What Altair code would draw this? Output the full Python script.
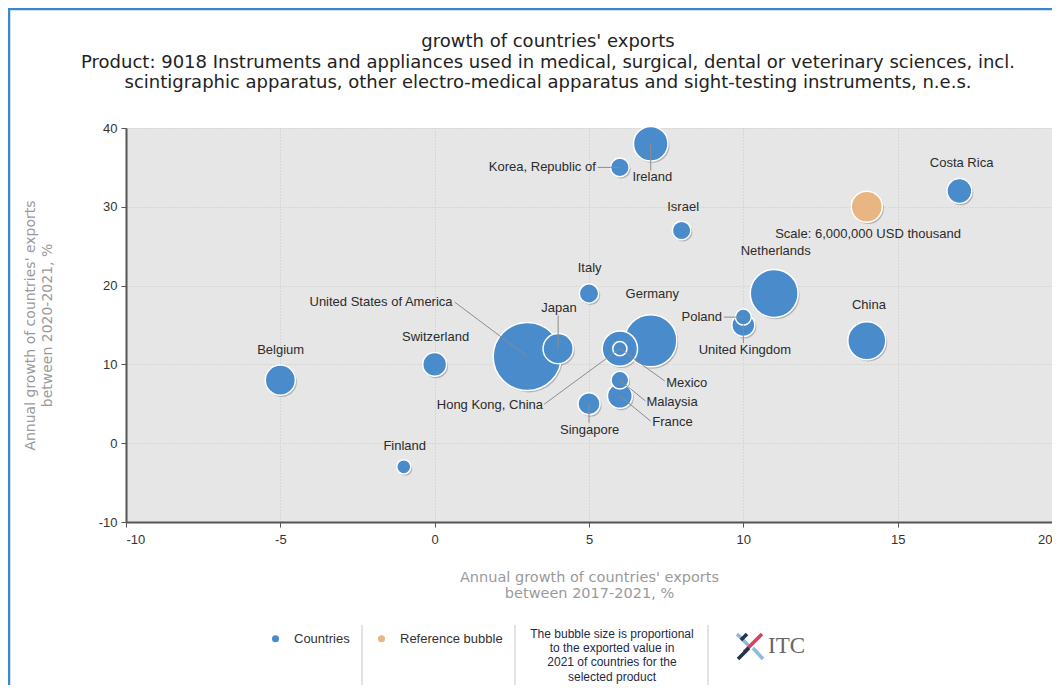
import altair as alt
import pandas as pd

# ---- data ----
countries = ["United States of America", "Germany", "Netherlands", "China", "Mexico",
             "Ireland", "Japan", "Belgium", "France", "Costa Rica", "Switzerland",
             "United Kingdom", "Singapore", "Italy", "Israel", "Korea, Republic of",
             "Malaysia", "Poland", "Hong Kong, China", "Finland"]
growth_2017_2021 = [3, 7, 11, 14, 6, 7, 4, -5, 6, 17, 0, 10, 5, 5, 8, 6, 6, 10, 6, -1]
growth_2020_2021 = [11, 13, 19, 13, 12, 38, 12, 8, 6, 32, 10, 15, 5, 19, 27, 35, 8, 16, 12, -3]
export_value_2021 = [29000000, 17000000, 14300000, 9000000, 7800000, 7450000, 5650000,
                     5650000, 3850000, 3850000, 3550000, 3300000, 3050000, 2350000,
                     2150000, 2150000, 1950000, 1600000, 1250000, 1250000]

# label anchors (in data units) and label alignment
label_x = [0.58, 7.05, 11.05, 14.07, 7.5, 7.05, 4.03, -4.99, 7.05, 17.07, 0.03,
           10.05, 5.02, 5.02, 8.05, 5.22, 6.86, 9.31, 3.51, -0.97]
label_y = [17.9, 18.9, 24.4, 17.5, 7.6, 33.8, 17.1, 11.8, 2.66, 35.5, 13.45,
           11.8, 1.65, 22.2, 29.95, 35.0, 5.2, 16.0, 4.8, -0.38]
label_align = ["right", "center", "center", "center", "left", "center", "center",
               "center", "left", "center", "center", "center", "center", "center",
               "center", "right", "left", "right", "right", "center"]
# leader line end points (data units); None = no leader line
line_end_x = [0.65, None, None, None, 7.45, 7.0, 4.0, None, 7.0, None, None,
              10.0, 5.0, None, None, 5.28, 6.83, 9.37, 3.55, None]
line_end_y = [17.9, None, None, None, 7.9, 34.6, 16.2, None, 2.8, None, None,
              12.7, 2.6, None, None, 35.0, 5.35, 16.0, 4.95, None]

ref_name = "Scale: 6,000,000 USD thousand"
ref_x, ref_y, ref_value = 14, 30, 6000000
ref_label_x, ref_label_y = 14.04, 26.5

x_ticks = [-10, -5, 0, 5, 10, 15, 20]
y_ticks = [-10, 0, 10, 20, 30, 40]

title_lines = [
    "growth of countries' exports",
    "Product: 9018 Instruments and appliances used in medical, surgical, dental or veterinary sciences, incl.",
    "scintigraphic apparatus, other electro-medical apparatus and sight-testing instruments, n.e.s.",
]
note_lines = ["The bubble size is proportional", "to the exported value in",
              "2021 of countries for the", "selected product"]

# ---- build table ----
rows = []
for i, c in enumerate(countries):
    rows.append(dict(name=c, kind="Countries", gx=growth_2017_2021[i], gy=growth_2020_2021[i],
                     value=export_value_2021[i], lx=label_x[i], ly=label_y[i],
                     align=label_align[i],
                     ex=line_end_x[i], ey=line_end_y[i]))
rows.append(dict(name=ref_name, kind="Reference bubble", gx=ref_x, gy=ref_y, value=ref_value,
                 lx=ref_label_x, ly=ref_label_y, align="center", ex=None, ey=None))
df = pd.DataFrame(rows).sort_values("value", ascending=False).reset_index(drop=True)
one = pd.DataFrame({"k": [0]})

W, H = 926, 394
BLUE = "#4A8BCB"
ORANGE = "#E8B583"
LABEL_FONT = "Liberation Sans"

xscale = alt.Scale(domain=[-10, 20], nice=False, zero=False)
yscale = alt.Scale(domain=[-10, 40], nice=False, zero=False)
size_scale = alt.Scale(domain=[0, 6000000], range=[0, 962])

base = alt.Chart(df)

xenc = alt.X("gx:Q", scale=xscale,
             axis=alt.Axis(values=x_ticks, labelExpr="toString(datum.value)",
                           title=["Annual growth of countries' exports", "between 2017-2021, %"]))
yenc = alt.Y("gy:Q", scale=yscale,
             axis=alt.Axis(values=y_ticks, labelExpr="toString(datum.value)",
                           title=["Annual growth of countries' exports", "between 2020-2021, %"]))

shadow = base.mark_circle(color="#8a8a8a", opacity=0.55, xOffset=1.5, yOffset=1.8).encode(
    x=xenc, y=yenc,
    size=alt.Size("value:Q", scale=size_scale, legend=None),
)

bubbles = base.mark_circle(opacity=1, stroke="white", strokeWidth=1.5).encode(
    x="gx:Q", y="gy:Q",
    size=alt.Size("value:Q", scale=size_scale, legend=None),
    color=alt.Color("kind:N",
                    scale=alt.Scale(domain=["Countries", "Reference bubble"], range=[BLUE, ORANGE]),
                    legend=alt.Legend(title=None, orient="none", legendX=143, legendY=504,
                                      direction="horizontal", symbolType="circle",
                                      symbolSize=50, symbolStrokeWidth=0,
                                      labelFont=LABEL_FONT, labelFontSize=13,
                                      labelColor="#333333", columnPadding=25,
                                      labelOffset=12)),
    tooltip=["name:N", "gx:Q", "gy:Q", "value:Q"],
)

leaders = base.transform_filter("isValid(datum.ex)").mark_rule(
    color="#8c8c8c", strokeWidth=1).encode(
    x="gx:Q", y="gy:Q", x2="ex:Q", y2="ey:Q")

label_layers = []
for al in ["left", "center", "right"]:
    label_layers.append(
        base.transform_filter(alt.datum.align == al).mark_text(
            align=al, baseline="middle", font=LABEL_FONT, fontSize=13, color="#2b2b2b"
        ).encode(x="lx:Q", y="ly:Q", text="name:N")
    )

# ---- title, footer note, separators, logo, frame ----
deco = []
deco.append(alt.Chart(one).mark_text(
    align="center", baseline="middle", font="DejaVu Sans", fontSize=18, lineHeight=20.5,
    color="#222222").encode(x=alt.value(422), y=alt.value(-86), text=alt.value(title_lines)))

for sx in [236, 389, 582]:
    deco.append(alt.Chart(one).mark_rule(color="#c8c8c8", strokeWidth=1).encode(
        x=alt.value(sx), y=alt.value(497), y2=alt.value(566)))

deco.append(alt.Chart(one).mark_text(
    align="center", baseline="top", font=LABEL_FONT, fontSize=12, lineHeight=14.2,
    color="#1f2a44").encode(x=alt.value(486), y=alt.value(501), text=alt.value(note_lines)))

deco.append(alt.Chart(one).mark_text(
    align="left", baseline="middle", font="Liberation Serif", fontSize=23,
    color="#666666").encode(x=alt.value(642), y=alt.value(518), text=alt.value("ITC")))

logo_segments = [
    ((611, 506), (623, 518), "#8fb8dd"),
    ((636, 506), (618, 524), "#d9405a"),
    ((612, 531), (623, 520), "#1f3550"),
    ((627, 520), (637, 531), "#8fb8dd"),
    ((615, 512), (621, 506), "#1f3550"),
]
for (a, b, col) in logo_segments:
    deco.append(alt.Chart(one).mark_rule(color=col, strokeWidth=3.5).encode(
        x=alt.value(a[0]), y=alt.value(a[1]), x2=alt.value(b[0]), y2=alt.value(b[1])))

deco.append(alt.Chart(one).mark_rule(color="#3d87ce", strokeWidth=2.5).encode(
    x=alt.value(-117), y=alt.value(-119), y2=alt.value(570)))
deco.append(alt.Chart(one).mark_rule(color="#3d87ce", strokeWidth=2.5).encode(
    x=alt.value(-118), x2=alt.value(W + 10), y=alt.value(-119)))

chart = alt.layer(shadow, bubbles, leaders, *label_layers, *deco).properties(
    width=W, height=H,
    autosize=alt.AutoSizeParams(type="none"),
    padding={"left": 118, "top": 120, "right": 0, "bottom": 163},
).configure_view(
    fill="#E6E6E6", stroke=None
).configure_axis(
    gridColor="#c9c9c9", gridDash=[1, 2], gridWidth=1,
    domainColor="#555555", domainWidth=2,
    tickColor="#555555", tickSize=5, tickWidth=1,
    labelFont=LABEL_FONT, labelFontSize=13, labelColor="#333333",
    titleFont="DejaVu Sans", titleFontWeight="normal", titleColor="#9a9a9a",
).configure_axisX(
    labelPadding=6, titlePadding=24, titleFontSize=14.5, titleLineHeight=16,
).configure_axisY(
    labelPadding=4, titlePadding=44, titleFontSize=14, titleLineHeight=17,
)

chart.save("out.html", embed_options={"renderer": "svg", "actions": False})
